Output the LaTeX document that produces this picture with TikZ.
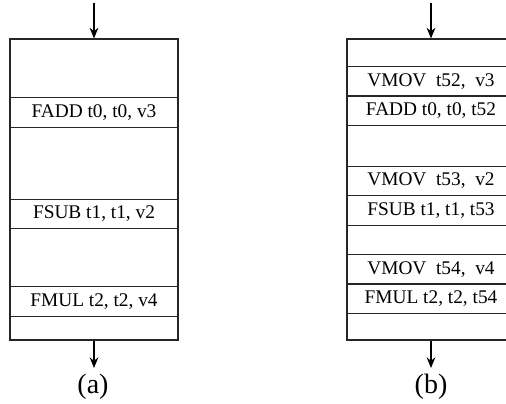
\documentclass[tikz,border=0pt]{standalone}
\usepackage{fontspec}
\setmainfont{Liberation Serif}
\usetikzlibrary{arrows.meta}

\begin{document}
\begin{tikzpicture}[x=0.75pt, y=-0.75pt]
	\tikzstyle{every node}=[draw=black!85, line width=0.8pt, inner sep=0pt, minimum width=126pt, minimum height=22.125pt, font=\fontsize{14.5}{16}\selectfont]
	\tikzstyle{flow}=[line width=0.9pt, -{Stealth[length=8pt, width=6.5pt]}]
	\useasboundingbox (0, 0) rectangle (506, 403);
	\clip (0, 0) rectangle (506, 403);

	% (a) original block
	\node[minimum height=225.75pt](Box_A) at (94, 189.5) {};
	\node(Fadd_A) at (94, 112.5) {FADD t0, t0, v3};
	\node(Fsub_A) at (94, 214) {FSUB t1, t1, v2};
	\node(Fmul_A) at (94, 301.5) {FMUL t2, t2, v4};

	% (b) block with moves
	\node[minimum height=225.75pt](Box_B) at (431, 189.5) {};
	\node(Vmov_52) at (431, 81.5) {VMOV~ t52,~ v3};
	\node(Fadd_B) at (431, 110.5) {FADD t0, t0, t52};
	\node(Vmov_53) at (431, 181) {VMOV~ t53,~ v2};
	\node(Fsub_B) at (431, 210.5) {FSUB t1, t1, t53};
	\node(Vmov_54) at (431, 269.5) {VMOV~ t54,~ v4};
	\node(Fmul_B) at (431, 298.5) {FMUL t2, t2, t54};

	% arrows in / out
	\coordinate (In_A) at (94, 3);
	\coordinate (Out_A) at (94, 368);
	\coordinate (In_B) at (431, 3);
	\coordinate (Out_B) at (431, 368);
	\draw[flow](In_A)--(Box_A.north);
	\draw[flow](Box_A.south)--(Out_A);
	\draw[flow](In_B)--(Box_B.north);
	\draw[flow](Box_B.south)--(Out_B);

	% labels
	\node[draw=none, minimum width=0pt, minimum height=0pt, font=\fontsize{21}{24}\selectfont](Label_A) at (93, 387) {(a)};
	\node[draw=none, minimum width=0pt, minimum height=0pt, font=\fontsize{21}{24}\selectfont](Label_B) at (431, 387) {(b)};
\end{tikzpicture}
\end{document}
